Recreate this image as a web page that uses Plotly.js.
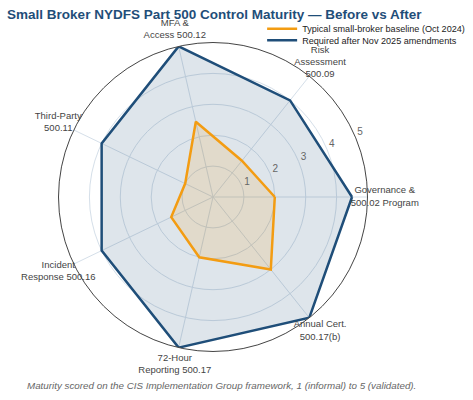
<!DOCTYPE html>
<html><head><meta charset="utf-8">
<script src="https://cdn.plot.ly/plotly-3.0.1.min.js"></script>
<style>html,body{margin:0;padding:0;background:#fff}</style>
</head><body><div id="chart" style="width:473px;height:400px"></div>
<script>
const categories = ["Governance &<br>500.02 Program","Risk<br>Assessment<br>500.09","MFA &<br>Access 500.12","Third-Party<br>500.11","Incident<br>Response 500.16","72-Hour<br>Reporting 500.17","Annual Cert.<br>500.17(b)"];
const baseline = [2.0, 1.5, 2.5, 1.0, 1.5, 2.0, 3.0];
const required = [4.5, 4.0, 5.0, 4.0, 4.0, 5.0, 5.0];
const seriesNames = ["Typical small-broker baseline (Oct 2024)", "Required after Nov 2025 amendments"];
const seriesColors = ["#f39c12", "#1f4e79"];
const radialTicks = [1,2,3,4,5];
const labelRadius = 5.56;     // category labels sit just outside the 0–5 scale
const tickLabelAngle = 23.8;  // radial tick labels direction (degrees)
const tickLabelShift = 0.2;   // radial tick labels sit a little beyond their ring

const close = a => a.concat([a[0]]);
const traces = [
  {type:'scatterpolar', r: close(required), theta: close(categories), name: seriesNames[1], showlegend:false,
   mode:'lines', fill:'toself', fillcolor:'rgba(31,78,121,0.15)', line:{color:seriesColors[1], width:2.5}},
  {type:'scatterpolar', r: close(baseline), theta: close(categories), name: seriesNames[0], showlegend:false,
   mode:'lines', fill:'toself', fillcolor:'rgba(243,156,18,0.15)', line:{color:seriesColors[0], width:2.5}},
  // legend entries (line only, as in the reference)
  {type:'scatterpolar', r:[null], theta:[null], name: seriesNames[0], legend:'legend', mode:'lines', line:{color:seriesColors[0], width:2.5}, hoverinfo:'skip'},
  {type:'scatterpolar', r:[null], theta:[null], name: seriesNames[1], legend:'legend2', mode:'lines', line:{color:seriesColors[1], width:2.5}, hoverinfo:'skip'},
  {type:'scatterpolar', subplot:'polar2', r: categories.map(()=>labelRadius), theta: categories, text: categories,
   mode:'text', textposition:'middle center', cliponaxis:false, showlegend:false, hoverinfo:'skip',
   textfont:{size:9.5, color:'#444'}},
  {type:'scatterpolar', subplot:'polar3', r: radialTicks.map(v=>v+tickLabelShift), theta: radialTicks.map(()=>tickLabelAngle),
   text: radialTicks.map(String), mode:'text', textposition:'middle center', cliponaxis:false, showlegend:false, hoverinfo:'skip',
   textfont:{size:10, color:'#666'}}
];
const hiddenAngular = {direction:'counterclockwise', rotation:0, showline:false, showgrid:false, showticklabels:false, ticks:''};
const hiddenRadial = {range:[0,5.6], visible:false, showgrid:false, showline:false, showticklabels:false, ticks:''};
const layout = {
  width:473, height:400,
  margin:{l:40, r:87, t:24, b:30, autoexpand:false},
  paper_bgcolor:'#fff',
  font:{family:'Liberation Sans, Arial, sans-serif', color:'#444', size:10},
  title:{text:'<b>Small Broker NYDFS Part 500 Control Maturity — Before vs After</b>', x:0.015, xanchor:'left', y:0.965, yanchor:'middle', font:{size:13.5, color:'#1f4e79'}},
  legend:{x:0.642, xanchor:'left', y:1.028, yanchor:'top', font:{size:9.1, color:'#222'}, bgcolor:'rgba(255,255,255,0)'},
  legend2:{x:0.642, xanchor:'left', y:0.995, yanchor:'top', font:{size:9.1, color:'#222'}, bgcolor:'rgba(255,255,255,0)'},
  showlegend:true,
  polar:{
    domain:{x:[0.0535,0.9465], y:[0.0535,0.9465]},
    bgcolor:'#fff',
    radialaxis:{range:[0,5], tickvals:radialTicks, showticklabels:false, showline:false, gridcolor:'#d5dfe9', ticks:''},
    angularaxis:{direction:'counterclockwise', rotation:0, linecolor:'#444', linewidth:1, gridcolor:'#d5dfe9', showticklabels:false, ticks:''}
  },
  polar2:{
    domain:{x:[0,1], y:[0,1]},
    bgcolor:'rgba(0,0,0,0)',
    radialaxis:hiddenRadial,
    angularaxis:hiddenAngular
  },
  polar3:{
    domain:{x:[0,1], y:[0,1]},
    bgcolor:'rgba(0,0,0,0)',
    radialaxis:hiddenRadial,
    angularaxis:Object.assign({type:'linear', thetaunit:'degrees'}, hiddenAngular)
  },
  annotations:[{text:'<i>Maturity scored on the CIS Implementation Group framework, 1 (informal) to 5 (validated).</i>', xref:'paper', yref:'paper', x:0.526, y:-0.046, xanchor:'center', yanchor:'middle', showarrow:false, font:{size:9.8, color:'#666'}}]
};
Plotly.newPlot('chart', traces, layout, {displayModeBar:false});
</script></body></html>
